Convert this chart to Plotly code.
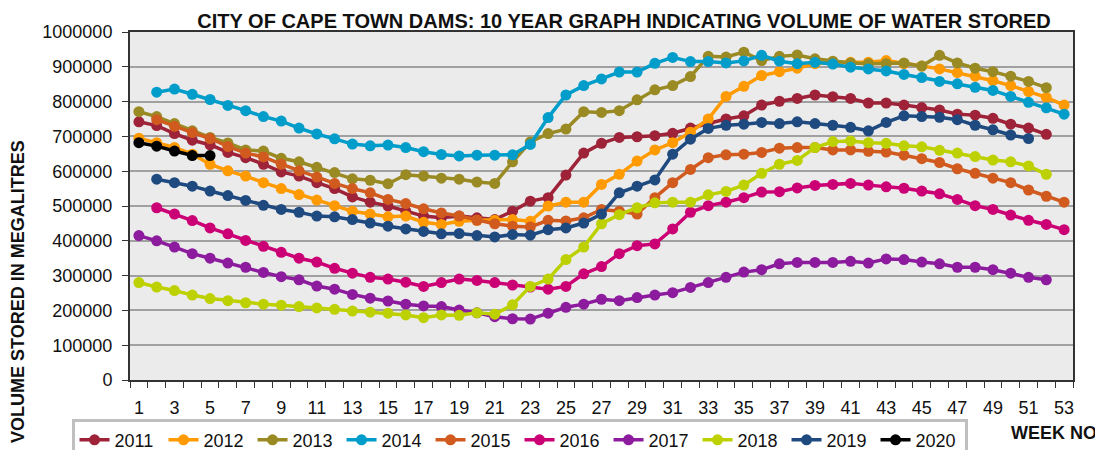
import plotly.graph_objects as go

weeks = list(range(1, 54))

y2011 = [742, 731, 708, 689, 676, 654, 639, 620, 598, 586, 567, 550, 526, 511, 500, 485, 471, 466,
         471, 466, 461, 485, 514, 524, 589, 652, 680, 697, 699, 702, 709, 724, 737, 750, 759, 790,
         801, 809, 819, 814, 809, 796, 796, 790, 783, 776, 764, 761, 752, 735, 724, 706, None]
y2012 = [695, 682, 668, 649, 620, 601, 586, 567, 550, 533, 517, 501, 485, 477, 469, 471, 453, 447,
         456, 459, 459, 461, 456, 500, 511, 511, 562, 591, 629, 661, 682, 712, 750, 815, 844, 875,
         886, 896, 909, 913, 913, 913, 918, 909, 902, 894, 883, 873, 860, 846, 829, 812, 790]
y2013 = [771, 757, 737, 716, 697, 681, 661, 658, 637, 627, 611, 596, 578, 574, 564, 590, 586, 580,
         577, 569, 565, 627, 684, 708, 721, 771, 769, 774, 805, 834, 846, 872, 930, 928, 942, 918,
         930, 934, 923, 916, 911, 909, 909, 911, 902, 933, 911, 896, 886, 873, 858, 840, None]
y2014 = [None, 827, 836, 821, 806, 789, 774, 757, 744, 724, 707, 693, 678, 673, 675, 668, 656, 648,
         644, 646, 646, 647, 677, 754, 819, 846, 865, 885, 885, 910, 927, 915, 915, 911, 917, 933,
         916, 909, 913, 908, 899, 894, 888, 878, 869, 858, 851, 841, 832, 815, 798, 782, 764]
y2015 = [None, 748, 729, 711, 694, 671, 652, 641, 620, 601, 583, 565, 550, 538, 519, 507, 492, 480,
         471, 459, 449, 442, 440, 459, 457, 466, 490, 485, 477, 524, 567, 605, 639, 647, 649, 654,
         666, 668, 668, 661, 661, 657, 655, 646, 636, 625, 607, 594, 580, 567, 546, 528, 511]
y2016 = [None, 495, 477, 458, 437, 420, 401, 384, 367, 350, 339, 321, 307, 295, 290, 281, 269, 280,
         290, 286, 280, 273, 267, 261, 269, 305, 326, 363, 386, 391, 434, 482, 501, 511, 524, 540,
         541, 552, 559, 562, 565, 560, 555, 551, 543, 535, 519, 501, 490, 474, 459, 447, 432]
y2017 = [415, 400, 382, 363, 350, 336, 324, 309, 297, 288, 270, 261, 246, 235, 227, 218, 213, 211,
         201, 193, 182, 176, 175, 192, 209, 218, 232, 228, 237, 244, 251, 266, 280, 295, 310, 317,
         334, 338, 338, 338, 341, 336, 348, 346, 339, 334, 324, 324, 317, 307, 295, 288, None]
y2018 = [280, 267, 257, 244, 234, 228, 222, 218, 215, 211, 207, 203, 198, 195, 192, 187, 179, 187,
         186, 193, 189, 216, 269, 290, 346, 382, 449, 475, 495, 509, 511, 511, 532, 542, 560, 594,
         620, 631, 668, 685, 687, 682, 680, 673, 670, 660, 652, 642, 632, 627, 615, 591, None]
y2019 = [None, 577, 567, 557, 543, 530, 516, 502, 490, 482, 471, 469, 461, 451, 442, 434, 427, 420,
         421, 415, 411, 418, 416, 432, 437, 451, 477, 538, 557, 575, 649, 692, 723, 732, 735, 740,
         737, 742, 737, 732, 726, 716, 740, 759, 757, 755, 748, 732, 719, 704, 694, None, None]
y2020 = [682, 672, 658, 645, 645] + [None] * 48

years = ["2011", "2012", "2013", "2014", "2015", "2016", "2017", "2018", "2019", "2020"]
series = [y2011, y2012, y2013, y2014, y2015, y2016, y2017, y2018, y2019, y2020]
colors = ["#9E2338", "#FF9A00", "#9A8A24", "#009DCA", "#D15B1F",
          "#CB0075", "#8C1B9E", "#BDD000", "#1F4A80", "#000000"]

x_ticks = list(range(1, 54, 2))
y_ticks = list(range(0, 1000001, 100000))

FONT = "Liberation Sans, Arial, sans-serif"

fig = go.Figure()
for name, vals, col in zip(years, series, colors):
    fig.add_trace(go.Scatter(
        x=weeks,
        y=[v * 1000 if v is not None else None for v in vals],
        mode="lines+markers",
        name=name,
        line=dict(color=col, width=3.5),
        marker=dict(color=col, size=11),
        connectgaps=False,
    ))

fig.update_layout(
    width=1095, height=442,
    margin=dict(l=122, r=30, t=24, b=70, autoexpand=False),
    paper_bgcolor="white",
    plot_bgcolor="#EBEBEB",
    font=dict(family=FONT, size=18, color="#111111"),
    title=dict(text="<b>CITY OF CAPE TOWN DAMS: 10 YEAR GRAPH INDICATING VOLUME OF WATER STORED</b>",
               x=0.5626, xanchor="center", xref="container",
               y=0.971, yanchor="middle", yref="container",
               font=dict(family=FONT, size=20, color="#111111")),
    showlegend=True,
    legend=dict(orientation="h", x=-0.062, xanchor="left", y=-0.111, yanchor="top",
                bgcolor="white", bordercolor="#BFBFBF", borderwidth=3,
                font=dict(family=FONT, size=18, color="#111111"),
                entrywidth=44, entrywidthmode="pixels", itemwidth=30,
                tracegroupgap=0),
)

fig.update_xaxes(
    range=[0.5, 53.5],
    tickmode="array", tickvals=x_ticks, ticktext=[str(t) for t in x_ticks],
    ticks="", showgrid=False, zeroline=False,
    showline=True, linecolor="#333333", linewidth=2, mirror=True,
    tickfont=dict(family=FONT, size=18, color="#111111"),
    ticklabelstandoff=10,
    minor=dict(tickmode="array", tickvals=[w + 0.5 for w in range(0, 54)],
               ticks="outside", ticklen=6, tickcolor="#333333", tickwidth=1, showgrid=False),
)
fig.update_yaxes(
    range=[0, 1000000],
    tickmode="array", tickvals=y_ticks, ticktext=[str(t) for t in y_ticks],
    ticks="outside", ticklen=6, tickcolor="#333333",
    showgrid=True, gridcolor="#A0A0A0", gridwidth=1.5, zeroline=False,
    showline=True, linecolor="#333333", linewidth=2, mirror=True,
    tickfont=dict(family=FONT, size=18, color="#111111"),
    ticklabelstandoff=6,
)

fig.add_annotation(text="<b>VOLUME STORED IN MEGALITRES</b>", textangle=-90,
                   xref="paper", yref="paper", x=-0.1188, y=0.256,
                   xanchor="center", yanchor="middle", showarrow=False,
                   font=dict(family=FONT, size=18, color="#111111"))
fig.add_annotation(text="<b>WEEK NO</b>",
                   xref="paper", yref="paper", x=0.98, y=-0.152,
                   xanchor="center", yanchor="middle", showarrow=False,
                   font=dict(family=FONT, size=18, color="#111111"))

fig.write_html("out.html")
